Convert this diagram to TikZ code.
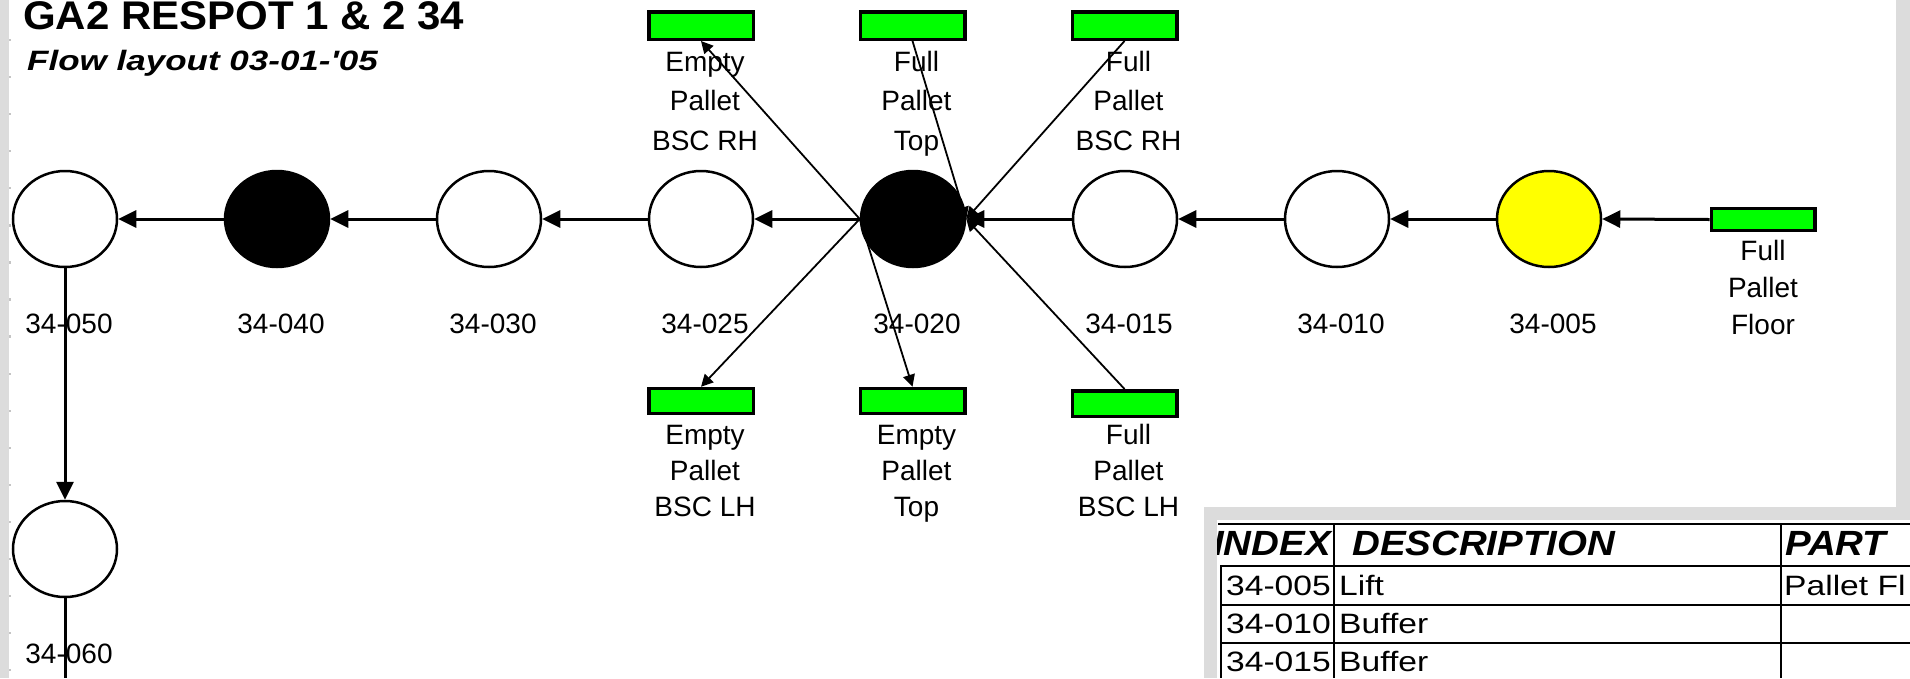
\documentclass[tikz,border=0pt]{standalone}
\usepackage{fontspec}
\usepackage{graphicx}
\setmainfont{Liberation Sans}
\usetikzlibrary{shapes.geometric,arrows.meta}
\definecolor{pgreen}{RGB}{0,255,0}
\definecolor{pyellow}{RGB}{255,255,0}
\definecolor{framegray}{RGB}{220,220,220}
\definecolor{tickgray}{RGB}{196,196,196}
\newcommand\labstack[2]{\vtop{\baselineskip=#1\lineskiplimit=-100pt\lineskip=0pt\halign{\hfil##\hfil\cr#2\crcr}}}
\begin{document}
\begin{tikzpicture}[x=1pt,y=-1pt,
  station/.style={ellipse,draw=black,line width=2.5pt,minimum width=104pt,minimum height=96pt,inner sep=0pt},
  busy/.style={station,fill=black},
  liftst/.style={station,fill=pyellow},
  pallet/.style={rectangle,draw=black,line width=3.5pt,fill=pgreen,minimum width=104.5pt,inner sep=0pt},
  lbl/.style={font=\fontsize{28}{28}\selectfont,inner sep=0pt,anchor=base},
  flow/.style={line width=3pt,-{Triangle[length=18pt,width=17pt]}},
  feed/.style={line width=1.8pt,-{Triangle[length=12pt,width=12pt]}},
  tline/.style={line width=2.6pt},
  th/.style={font=\fontsize{35}{35}\selectfont\bfseries\itshape,inner sep=0pt},
  td/.style={font=\fontsize{28}{28}\selectfont,inner sep=0pt}]
\useasboundingbox[fill=white] (0,0) rectangle (1910,678);

% side bars
\fill[framegray] (0,0) rectangle (9,678);
\foreach \k in {0,...,17} \fill[tickgray] (9,{40+37.06*\k-1}) rectangle (11,{40+37.06*\k+1.2});
\fill[framegray] (1896,0) rectangle (1910,520);

% title
\node[inner sep=0pt,anchor=base west,font=\fontsize{40}{40}\selectfont\bfseries] (title) at (23,29.5) {\scalebox{1.05}[1]{GA2 RESPOT 1 \& 2 34}};
\node[inner sep=0pt,anchor=base west,font=\fontsize{28}{28}\selectfont\bfseries\itshape] (subtitle) at (27,70) {\addfontfeature{Ligatures=TeXOff}\scalebox{1.25}[1]{Flow layout 03-01-'05}};

% stations
\node[station] (c050) at (65,219) {};
\node[busy]    (c040) at (277,219) {};
\node[station] (c030) at (489,219) {};
\node[station] (c025) at (701,219) {};
\node[busy]    (c020) at (913,219) {};
\node[station] (c015) at (1125,219) {};
\node[station] (c010) at (1337,219) {};
\node[liftst]  (c005) at (1549,219) {};
\node[station] (c060) at (65,549) {};
\coordinate (exit) at (65,678);

% pallet sources / sinks
\node[pallet,minimum height=27.5pt] (eprh)  at (701,25.5) {};
\node[pallet,minimum height=27.5pt] (fptop) at (912.5,25.5) {};
\node[pallet,minimum height=27.5pt] (fprh)  at (1124.5,25.5) {};
\node[pallet,minimum height=25pt]   (eplh)  at (701,401) {};
\node[pallet,minimum height=25pt]   (eptop) at (912.5,401) {};
\node[pallet,minimum height=25.5pt] (fplh)  at (1124.5,403.5) {};
\node[pallet,minimum height=22pt,minimum width=103.5pt] (floor) at (1763,219.5) {};

% labels
\node[lbl] (l050) at (69,333) {34-050};
\node[lbl] (l040) at (281,333) {34-040};
\node[lbl] (l030) at (493,333) {34-030};
\node[lbl] (l025) at (705,333) {34-025};
\node[lbl] (l020) at (917,333) {34-020};
\node[lbl] (l015) at (1129,333) {34-015};
\node[lbl] (l010) at (1341,333) {34-010};
\node[lbl] (l005) at (1553,333) {34-005};
\node[lbl] (l060) at (69,663) {34-060};
\node[lbl] (teprh)  at (705,71)    {\labstack{39.5pt}{Empty\cr Pallet\cr BSC RH}};
\node[lbl] (tfptop) at (916.5,71)  {\labstack{39.5pt}{Full\cr Pallet\cr Top}};
\node[lbl] (tfprh)  at (1128.5,71) {\labstack{39.5pt}{Full\cr Pallet\cr BSC RH}};
\node[lbl] (teplh)  at (705,444)   {\labstack{36pt}{Empty\cr Pallet\cr BSC LH}};
\node[lbl] (teptop) at (916.5,444) {\labstack{36pt}{Empty\cr Pallet\cr Top}};
\node[lbl] (tfplh)  at (1128.5,444){\labstack{36pt}{Full\cr Pallet\cr BSC LH}};
\node[lbl] (tfloor) at (1763,260)  {\labstack{37pt}{Full\cr Pallet\cr Floor}};

% main flow
\draw[flow] (floor.west) -- (c005.east);
\draw[flow] (c005.west) -- (c010.east);
\draw[flow] (c010.west) -- (c015.east);
\draw[flow] (c015.west) -- (c020.east);
\draw[flow] (c020.west) -- (c025.east);
\draw[flow] (c025.west) -- (c030.east);
\draw[flow] (c030.west) -- (c040.east);
\draw[flow] (c040.west) -- (c050.east);
\draw[flow] (c050.south) -- (c060.north);
\draw[line width=3pt] (c060.south) -- (exit);

% pallet feeds
\draw[feed] (c020.west) -- (eprh.south);
\draw[feed] (fptop.south) -- (c020.east);
\draw[feed] (fprh.south) -- (c020.east);
\draw[feed] (c020.west) -- (eplh.north);
\draw[feed] (c020.west) -- (eptop.north);
\draw[feed] (fplh.north) -- (c020.east);

% table
\fill[framegray] (1204,507) rectangle (1910,678);
\fill[white] (1217,520) rectangle (1910,678);
\begin{scope}
\clip (1217,520) rectangle (1910,678);
\draw[tline] (1218,524) -- (1910,524);
\draw[tline] (1220,566) -- (1910,566);
\draw[tline] (1220,605) -- (1910,605);
\draw[tline] (1220,643) -- (1910,643);
\draw[tline] (1221,566) -- (1221,678);
\draw[tline] (1334,524) -- (1334,678);
\draw[tline] (1781,524) -- (1781,678);
\node[th,anchor=base east] (hidx)  at (1331,555) {\scalebox{1.1}[1]{INDEX}};
\node[th,anchor=base west] (hdesc) at (1352,555) {\scalebox{1.1}[1]{DESCRIPTION}};
\node[th,anchor=base west] (hpart) at (1785,555) {\scalebox{1.1}[1]{PART}};
\node[td,anchor=base east] (i1) at (1331,595) {\scalebox{1.2}[1]{34-005}};
\node[td,anchor=base west] (d1) at (1339,595) {\scalebox{1.2}[1]{Lift}};
\node[td,anchor=base west] (p1) at (1784,595) {\scalebox{1.2}[1]{Pallet Fl}};
\node[td,anchor=base east] (i2) at (1331,633) {\scalebox{1.2}[1]{34-010}};
\node[td,anchor=base west] (d2) at (1339,633) {\scalebox{1.2}[1]{Buffer}};
\node[td,anchor=base east] (i3) at (1331,671) {\scalebox{1.2}[1]{34-015}};
\node[td,anchor=base west] (d3) at (1339,671) {\scalebox{1.2}[1]{Buffer}};
\end{scope}
\end{tikzpicture}
\end{document}
